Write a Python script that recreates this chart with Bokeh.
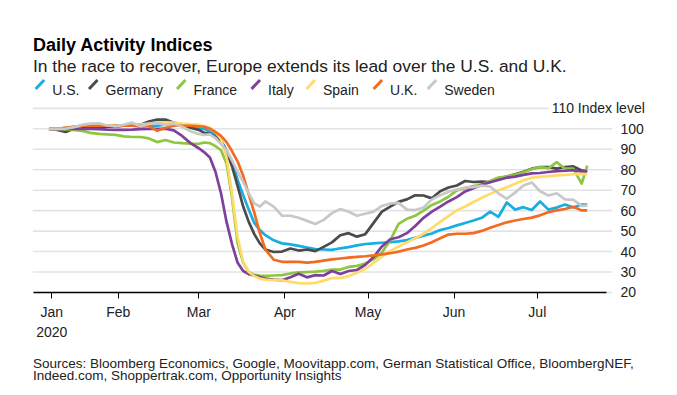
from bokeh.plotting import figure
from bokeh.models import Range1d, FixedTicker, Label, Arrow
from bokeh.embed import file_html
from bokeh.resources import INLINE

# ---------------- data (day offsets from 2020-01-01) ----------------
days = [6, 9, 12, 15, 18, 21, 24, 27, 30, 33, 36, 39, 42, 45, 48, 51, 54, 57, 60,
        62, 64, 66, 68, 70, 72, 74, 76, 78, 80, 82, 84,
        87, 90, 93, 96, 99, 102, 105, 108, 111, 114, 117, 120, 123, 126, 129, 132, 135, 138,
        141, 144, 147, 150, 153, 156, 159, 162, 165, 168, 171, 174, 177, 180, 183, 186, 189,
        192, 195, 198, 200]

us = [100, 100, 100.5, 101, 101.5, 101.5, 101, 101, 101.5, 101.5, 101.5, 101, 101.5, 101.5, 102, 102, 102, 101, 100,
      100, 98.5, 97, 94.5, 89.5, 84, 75, 67.5, 60.5, 54, 50.5, 48,
      45.5, 44, 43.5, 42.8, 42, 41.2, 41, 40.8, 41.6, 42.2, 43, 43.7, 44, 44.3, 44.6, 45, 45.6, 46.7,
      47.8, 48.8, 50.5, 51.5, 52.8, 54, 55.2, 56.5, 59.5, 57, 64, 60.5, 61.7, 60.3, 64.5, 60.5, 61.5,
      63, 61.5, 63, 63]

germany = [100, 99.5, 98.5, 100, 100.5, 101, 101, 101, 101, 101.5, 101.5, 102, 103.5, 104.5, 104.5, 103, 102, 100.5, 99.5,
           98, 97.5, 96, 94, 89, 81.5, 72, 62, 54.5, 48.5, 44, 41,
           39.8, 40, 41.5, 40.5, 41, 40.2, 42.3, 44.5, 48, 49, 47.3, 48.5, 54, 59.5, 62, 64.3, 65.5, 67.5,
           67.4, 66, 69.5, 71.3, 72.3, 74.5, 74, 74.2, 74, 75.8, 76.7, 77.8, 79, 80.5, 81.3, 81.3, 80.5,
           81.3, 81.6, 79.6, 79.6]

france = [100, 100, 99.7, 99.5, 99, 98, 97.5, 97.3, 97, 96.3, 96, 96, 95.3, 93.5, 94.5, 93.3, 93, 92.8, 92.7,
          93.3, 93, 91.5, 89.5, 83, 66, 44, 34.5, 30, 28.6, 28.3, 28.1,
          28.3, 28.5, 29.3, 29.8, 30, 30.2, 30.6, 31.2, 31.2, 32.5, 33, 34.2, 36.3, 39.5, 45.5, 53.5, 56, 57.5,
          60, 62.8, 64.5, 66.8, 69.9, 71, 72, 72.8, 74.5, 76.2, 76.7, 77.5, 78.8, 80.3, 81.3, 80.7, 83.7,
          80.5, 80.5, 73.2, 82]

italy = [100, 100, 100, 100, 100, 100, 99.8, 99.6, 99.5, 99.5, 99.6, 99.8, 100, 100, 100, 99.2, 96.5, 93, 90.5,
         88.5, 86, 79, 68.5, 54.5, 43.5, 34.5, 30.5, 29, 28.3, 27.5, 26.8,
         26.3, 26, 27.5, 29.2, 27.4, 28.5, 28.3, 30.5, 29, 30.5, 31, 33.5, 37.3, 42.5, 46, 47, 49, 52.5,
         56.5, 59.5, 62, 64.5, 66.6, 69.4, 71, 72.7, 73.9, 75, 76.1, 76.6, 77.5, 78.2, 78.4, 78.9, 79.3,
         79.5, 79.8, 79, 79.3]

spain = [100, 100, 100.5, 101, 101.5, 102, 101.5, 101.5, 101.5, 101.5, 101.5, 102, 102.5, 103, 103.2, 103, 102.5, 102.2, 102,
         101.2, 100.5, 98.5, 95, 86, 68, 47, 35, 30, 28, 26.8, 26.3,
         26, 26, 25.2, 24.6, 24.4, 24.7, 25.8, 27, 27, 28, 29.6, 31.6, 34.5, 37.5, 40.3, 42.5, 44.5, 46.5,
         48.7, 51.5, 54.5, 57.3, 60.2, 62, 64.2, 66.3, 68.2, 70, 71.4, 73.1, 74.8, 76.1, 76.5, 76.9, 77.2,
         77.5, 77.8, 78, 77.7]

uk = [100, 100, 100.5, 101, 101.5, 101.5, 101.5, 101.5, 101.5, 101.5, 101.5, 101.5, 101.5, 99, 100.5, 101.5, 101.5, 101.5, 101.2,
      101, 100, 98.5, 96.5, 93.5, 89, 84, 77, 68, 59, 49, 41,
      36, 35, 35, 35, 34.6, 35, 35.6, 36.2, 36.6, 37, 37.4, 37.7, 38.1, 38.6, 39.2, 40, 41, 41.8,
      43, 44.6, 46.5, 48.3, 48.7, 48.7, 49, 50.1, 51.6, 53, 54.3, 55.2, 55.9, 56.6, 57.7, 59.2, 60.1,
      60.8, 61.9, 60.1, 60.1]

sweden = [100, 100, 100, 100.8, 102, 102.5, 102.7, 101.6, 101.2, 102, 103, 101.2, 102.4, 103, 101.8, 102.5, 101, 98.8, 97.5,
          97, 97.3, 95.5, 92.5, 89.5, 84.5, 79, 74, 68.5, 63.5, 62, 64.5,
          62, 57.5, 57.5, 56.5, 55, 53.5, 55.5, 58.8, 60.8, 59.5, 57.5, 58.5, 59.5, 62.3, 63.5, 63.8, 60.5, 60.3,
          61.5, 65.5, 67.5, 69.2, 70.3, 71.3, 71.5, 72.2, 71.8, 68.5, 65.8, 68.8, 72.3, 73.8, 69.5, 67.4, 68.5,
          65.5, 65.3, 62.3, 62.5]

series_names = ["U.S.", "Germany", "France", "Italy", "Spain", "U.K.", "Sweden"]
series_values = [us, germany, france, italy, spain, uk, sweden]
series_colors = ["#1AADE0", "#4B4B4B", "#8DC63F", "#7E3F9D", "#FFDB6A", "#F26B21", "#C8C8C8"]

tick_days = [7, 31, 60, 91, 121, 152, 182]
tick_labels = ["Jan\n2020", "Feb", "Mar", "Apr", "May", "Jun", "Jul"]
y_ticks = [20, 30, 40, 50, 60, 70, 80, 90, 100]
top_value = 110
top_text = "110 Index level"

title_text = "Daily Activity Indices"
subtitle_text = "In the race to recover, Europe extends its lead over the U.S. and U.K."
source_lines = ["Sources: Bloomberg Economics, Google, Moovitapp.com, German Statistical Office, BloombergNEF,",
                "Indeed.com, Shoppertrak.com, Opportunity Insights"]

# ---------------- layout ----------------
# The plot frame fills the whole canvas; the data area is set by the ranges,
# axes are pinned with fixed_location so nothing gets clipped.
FONT = "Liberation Sans"
W, H = 677, 395
XR = (-11.47, 232.53)   # canvas x 0..677
YR = (-30.34, 162.70)   # canvas y 395..0
GRID_X = (0.17, 208.99)      # light grid line extent
AXIS_X = (0.53, 206.94)      # x axis line extent
TOP_GRID_END = 186.1
Y_AXIS_AT = 209.1

p = figure(width=W, height=H, output_backend="svg", toolbar_location=None,
           x_range=Range1d(*XR), y_range=Range1d(*YR),
           min_border_left=0, min_border_right=0, min_border_top=0, min_border_bottom=0,
           y_axis_location="right", title=None)
p.outline_line_color = None
p.background_fill_color = "white"
p.border_fill_color = "white"
p.xgrid.visible = False
p.ygrid.visible = False

# grid lines
p.segment(x0=GRID_X[0], x1=GRID_X[1], y0=y_ticks, y1=y_ticks,
          line_color="#E3E3E3", line_width=1.6)
p.segment(x0=[GRID_X[0]], x1=[TOP_GRID_END], y0=[top_value], y1=[top_value],
          line_color="#E3E3E3", line_width=1.6)

xa = p.xaxis[0]
xa.fixed_location = y_ticks[0]
xa.bounds = AXIS_X
xa.ticker = FixedTicker(ticks=tick_days)
xa.major_label_overrides = {d: l for d, l in zip(tick_days, tick_labels)}
xa.major_tick_out = 6
xa.major_tick_in = 0
xa.minor_tick_line_color = None
xa.axis_line_color = "#000000"
xa.axis_line_width = 1.3
xa.major_tick_line_color = "#000000"
xa.major_label_text_font = FONT
xa.major_label_text_font_size = "14px"
xa.major_label_text_color = "#222222"
xa.major_label_standoff = 6

ya = p.yaxis[0]
ya.fixed_location = Y_AXIS_AT
ya.ticker = FixedTicker(ticks=y_ticks)
ya.axis_line_color = None
ya.major_tick_line_color = None
ya.minor_tick_line_color = None
ya.major_tick_out = 0
ya.major_tick_in = 0
ya.major_label_standoff = 8
ya.major_label_text_font = FONT
ya.major_label_text_font_size = "14px"
ya.major_label_text_color = "#222222"
ya.major_label_text_align = "left"

for vals, col in zip(series_values, series_colors):
    p.line(days, vals, line_color=col, line_width=2.7, line_join="round")

p.add_layout(Label(x=644.3, y=top_value, x_units="screen", y_units="data", text=top_text,
                   text_font=FONT, text_font_size="14px", text_color="#222222",
                   text_align="right", text_baseline="middle"))

# title & subtitle (screen coords from canvas bottom-left)
p.add_layout(Label(x=32.5, y=H - 44, x_units="screen", y_units="screen", text=title_text,
                   text_font=FONT, text_font_size="18px", text_font_style="bold",
                   text_color="#000000", text_baseline="alphabetic"))
p.add_layout(Label(x=32.5, y=H - 65, x_units="screen", y_units="screen", text=subtitle_text,
                   text_font=FONT, text_font_size="17.4px", text_color="#222222",
                   text_baseline="alphabetic"))

# legend
legend_text_x = [51.7, 105, 193, 267.5, 322.5, 389.6, 443.7]
for name, col, tx in zip(series_names, series_colors, legend_text_x):
    p.add_layout(Arrow(end=None, x_start=tx - 16.5, y_start=H - 88.5, x_end=tx - 8, y_end=H - 79.5,
                       start_units="screen", end_units="screen",
                       line_color=col, line_width=3))
    p.add_layout(Label(x=tx, y=H - 89, x_units="screen", y_units="screen", text=name,
                       text_font=FONT, text_font_size="14px", text_color="#222222",
                       text_baseline="alphabetic"))

# sources
for i, line in enumerate(source_lines):
    p.add_layout(Label(x=32.5, y=H - 362.5 - 12.6 * i, x_units="screen", y_units="screen", text=line,
                       text_font=FONT, text_font_size="13.5px", text_color="#222222",
                       text_baseline="alphabetic"))

open("out.html", "w").write(file_html(p, INLINE))
